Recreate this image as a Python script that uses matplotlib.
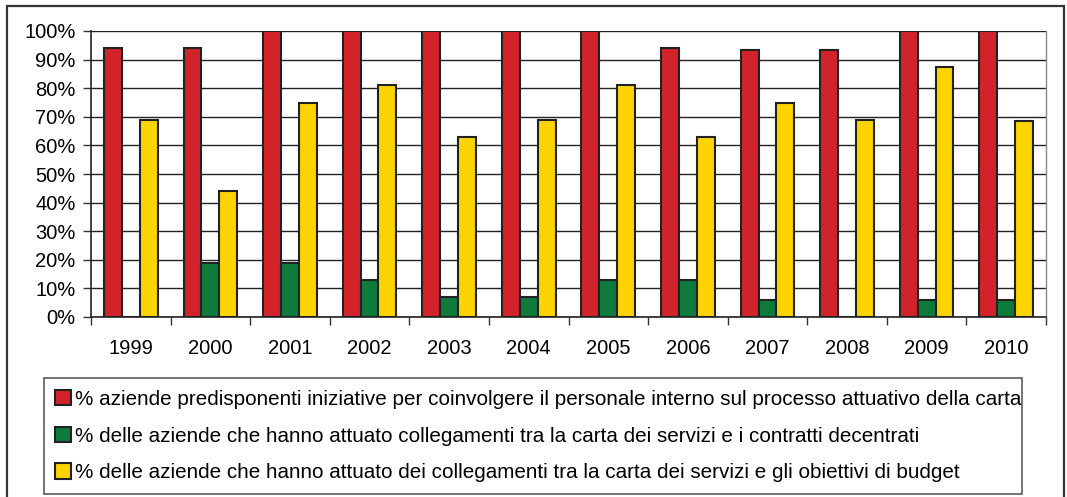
import numpy as np
import matplotlib
matplotlib.use("Agg")
import matplotlib.pyplot as plt
from matplotlib.patches import Rectangle
from matplotlib.ticker import FixedLocator, PercentFormatter

# -------------------------------
# data
# -------------------------------
years = ["1999", "2000", "2001", "2002", "2003", "2004",
         "2005", "2006", "2007", "2008", "2009", "2010"]

personale = [94, 94, 100, 100, 100, 100, 100, 94, 93.5, 93.5, 100, 100]
contratti = [0, 19, 19, 13, 7, 7, 13, 13, 6, 0, 6, 6]
budget = [69, 44, 75, 81, 63, 69, 81, 63, 75, 69, 87.5, 68.5]

labels = [
    "% aziende predisponenti iniziative per coinvolgere il personale interno sul processo attuativo della carta",
    "% delle aziende che hanno attuato collegamenti tra la carta dei servizi e i contratti decentrati",
    "% delle aziende che hanno attuato dei collegamenti tra la carta dei servizi e gli obiettivi di budget",
]
colors = ["#D2232A", "#0E7B3D", "#FDD300"]

plt.rcParams["font.family"] = ["Liberation Sans", "DejaVu Sans"]

fig = plt.figure(figsize=(10.67, 4.97), dpi=100)

# outer frame of the picture
fig.patches.append(Rectangle((7 / 1067, -0.05), (1064 - 7) / 1067, 1.05 - 6 / 497,
                             transform=fig.transFigure, fill=False,
                             edgecolor="#333333", linewidth=1.6))

ax = fig.add_axes([91 / 1067, 1 - 317 / 497, (1046 - 91) / 1067, (317 - 31) / 497])

x = np.arange(len(years))
w = 0.225
handles = []
for k, (vals, col) in enumerate(zip([personale, contratti, budget], colors)):
    b = ax.bar(x + (k - 1) * w, vals, w, color=col, edgecolor="#222222",
               linewidth=1.5, zorder=3)
    handles.append(b)

ax.set_xlim(-0.5, len(years) - 0.5)
ax.set_ylim(0, 100)
ax.set_yticks(np.arange(0, 101, 10))
ax.yaxis.set_major_formatter(PercentFormatter(decimals=0))
ax.grid(axis="y", color="#222222", linewidth=1.0, zorder=0)

# separator ticks between the groups, labels at the centres
ax.xaxis.set_major_locator(FixedLocator(np.arange(-0.5, len(years), 1)))
ax.xaxis.set_minor_locator(FixedLocator(x))
ax.set_xticklabels([])
ax.set_xticklabels(years, minor=True)
ax.tick_params(axis="x", which="major", length=6, width=1, color="#333333")
ax.tick_params(axis="x", which="minor", length=0, pad=16, labelsize=14.5)
ax.tick_params(axis="y", length=6, width=1, color="#333333", labelsize=14.5, pad=5)

for s in ["left", "bottom"]:
    ax.spines[s].set_color("#222222")
    ax.spines[s].set_linewidth(1.2)
ax.spines["top"].set_visible(False)
ax.spines["right"].set_color("#888888")
ax.spines["right"].set_linewidth(1.0)

leg = fig.legend(handles, labels, loc="center",
                 bbox_to_anchor=(44 / 1067, 1 - 494 / 497, (1022 - 44) / 1067, (494 - 378) / 497),
                 mode="expand", fontsize=14.85, frameon=True, fancybox=False,
                 edgecolor="#333333", handlelength=0.75, handleheight=0.75,
                 handletextpad=0.2, labelspacing=0.86, borderpad=0.55,
                 borderaxespad=0)
leg.get_frame().set_linewidth(1.2)

fig.savefig("out.png", dpi=100)
